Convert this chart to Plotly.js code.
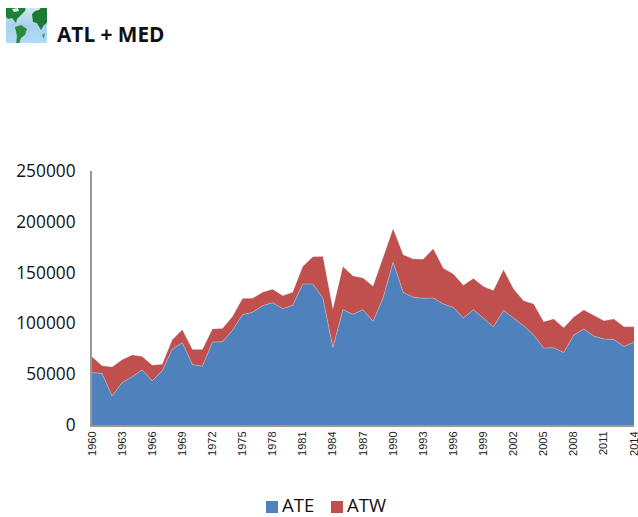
<!DOCTYPE html>
<html><head><meta charset="utf-8">
<script src="https://cdn.plot.ly/plotly-3.0.1.min.js"></script>
<style>html,body{margin:0;padding:0;background:#fff}</style></head>
<body><div id="chart" style="width:638px;height:517px"></div>
<script>
const years = [1960,1961,1962,1963,1964,1965,1966,1967,1968,1969,1970,1971,1972,1973,1974,1975,1976,1977,1978,1979,1980,1981,1982,1983,1984,1985,1986,1987,1988,1989,1990,1991,1992,1993,1994,1995,1996,1997,1998,1999,2000,2001,2002,2003,2004,2005,2006,2007,2008,2009,2010,2011,2012,2013,2014];
const ATE = [51700,50700,28600,41800,47400,54300,43400,53300,74700,80900,59500,57900,81600,81900,93400,108600,110900,117500,120400,114500,117800,138800,138800,125000,76300,113500,108900,113500,102000,125000,160200,130600,125700,124700,125000,119100,115800,105300,113500,105300,96700,112800,105300,97700,88500,75700,76000,71400,88500,94400,87500,84600,84200,77300,81600];
const ATW = [15400,7500,28600,22400,21400,13100,15500,6600,9200,12900,14900,16500,12800,13200,13500,15800,13800,13100,13200,12800,12800,17100,26700,40800,37900,42400,37800,31300,34500,40200,32900,36900,37800,38500,48400,35200,32900,32200,30600,30900,35600,39900,28600,24700,30600,26000,28300,24300,17800,18800,20700,18000,20100,19400,15100];
const tickYears = [1960,1963,1966,1969,1972,1975,1978,1981,1984,1987,1990,1993,1996,1999,2002,2005,2008,2011,2014];
const yTicks = [0,50000,100000,150000,200000,250000];
const titleText = 'ATL + MED';
const seriesNames = ['ATE','ATW'];
const seriesColors = ['#4f81bd','#c0504d'];

const W=638,H=517,L=92,R=4,T=171,B=92,PW=W-L-R,PH=H-T-B;
const px = x => (x-L)/PW;
const py = y => (H-B-y)/PH;

const globe = 'data:image/svg+xml;utf8,' + encodeURIComponent(
 '<svg xmlns="http://www.w3.org/2000/svg" width="41" height="35" viewBox="0 0 41 35">'+
 '<defs><linearGradient id="g" x1="0" y1="0" x2="0" y2="1"><stop offset="0" stop-color="#cfe6f0"/><stop offset="0.5" stop-color="#a6d2ee"/><stop offset="1" stop-color="#b2dbf4"/></linearGradient>'+
 '<filter id="b" x="-10%" y="-10%" width="120%" height="120%"><feGaussianBlur stdDeviation="0.7"/></filter></defs>'+
 '<rect width="41" height="35" fill="url(#g)"/><g filter="url(#b)">'+
 '<path d="M-2 -2H20L19 3L15 7L11 11L10 15L6 10L2 11L-2 7Z" fill="#1f8038"/>'+
 '<path d="M6 1L12 0L13 3L8 4Z" fill="#e4efe6"/>'+
 '<path d="M9 19L15 17L21 21L19 27L15 30L13 36H10L11 28Z" fill="#2f8a3e"/>'+
 '<path d="M26 6L31 1L43 -2V13L38 17L35 22L31 15L27 14Z" fill="#1a7a34"/>'+
 '<path d="M27 -2H36L33 2L28 3Z" fill="#dcebe2"/>'+
 '<path d="M36 27L39 25L38 31Z" fill="#4a9c58"/></g></svg>');

const legendFont = {family:'Open Sans',size:18.5,color:'#111'};
const legendX = [266,331];

Plotly.newPlot('chart', [
 {name:seriesNames[0], x:years, y:ATE, type:'scatter', mode:'lines', stackgroup:'one', fillcolor:seriesColors[0], line:{color:'rgba(200,205,215,0.8)',width:0.6}},
 {name:seriesNames[1], x:years, y:ATW, type:'scatter', mode:'lines', stackgroup:'one', fillcolor:seriesColors[1], line:{color:'rgba(200,205,215,0.5)',width:0.4}}
],{
 width:W,height:H,paper_bgcolor:'#fff',plot_bgcolor:'#fff',
 margin:{l:L,r:R,t:T,b:B},
 showlegend:false,
 xaxis:{range:[1960,2014],tickmode:'array',tickvals:tickYears,ticktext:tickYears.map(String),tickangle:-90,ticklabeloverflow:'allow',tickfont:{family:'Liberation Sans',size:11,color:'#222'},showgrid:false,zeroline:false,showline:true,linecolor:'#999',linewidth:2,ticks:'',ticklen:0},
 yaxis:{range:[0,250000],tickmode:'array',tickvals:yTicks,ticktext:yTicks.map(String),ticklabelstandoff:11,tickfont:{family:'Open Sans',size:17.3,color:'#111'},showgrid:false,zeroline:false,showline:true,linecolor:'#999',linewidth:2,ticks:'',ticklen:0},
 shapes:seriesNames.map((n,i)=>({type:'rect',xref:'paper',yref:'paper',x0:px(legendX[i]),x1:px(legendX[i]+12),y0:py(513),y1:py(501),fillcolor:seriesColors[i],line:{width:0}})),
 annotations:[{text:'<b>'+titleText+'</b>',xref:'paper',yref:'paper',x:px(57),xanchor:'left',xshift:-2,y:py(34),yanchor:'middle',showarrow:false,font:{family:'Open Sans',size:20.8,color:'#111'}}]
  .concat(seriesNames.map((n,i)=>({text:n,xref:'paper',yref:'paper',x:px(legendX[i]+16),xanchor:'left',xshift:-2,y:py(504.5),yanchor:'middle',showarrow:false,font:legendFont}))),
 images:[{source:globe,xref:'paper',yref:'paper',x:px(6),y:py(8),sizex:41/PW,sizey:35/PH,xanchor:'left',yanchor:'top',sizing:'stretch',layer:'above'}]
},{displayModeBar:false});
</script></body></html>
